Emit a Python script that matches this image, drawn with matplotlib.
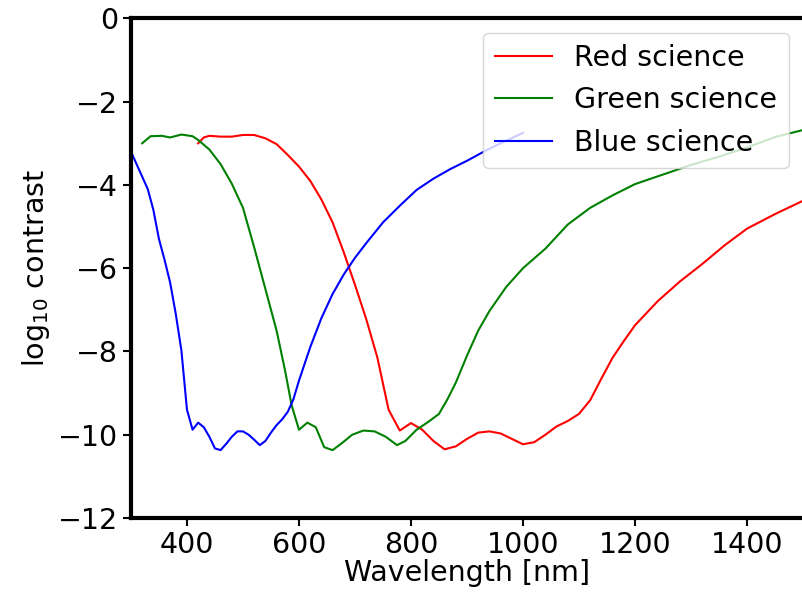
import matplotlib
matplotlib.use("Agg")
import matplotlib.pyplot as plt

# ── Data ───────────────────────────────────────────────────────────────────
red_wl = [420, 430, 440, 460, 480, 500, 520, 540, 560, 580, 600, 620, 640, 660,
          680, 700, 720, 740, 760, 780, 800, 820, 840, 860, 880, 900, 920, 940,
          960, 980, 1000, 1020, 1040, 1060, 1080, 1100, 1120, 1140, 1160, 1180,
          1200, 1240, 1280, 1320, 1360, 1400, 1450, 1500]
red_val = [-3.0, -2.86, -2.82, -2.84, -2.84, -2.8, -2.8, -2.88, -3.02, -3.28,
           -3.56, -3.9, -4.35, -4.9, -5.62, -6.4, -7.22, -8.15, -9.4, -9.9,
           -9.72, -9.88, -10.15, -10.35, -10.28, -10.1, -9.95, -9.92, -9.97,
           -10.1, -10.23, -10.18, -10.0, -9.8, -9.67, -9.5, -9.17, -8.65, -8.15,
           -7.75, -7.37, -6.8, -6.32, -5.9, -5.45, -5.05, -4.7, -4.38]

green_wl = [320, 335, 355, 370, 390, 410, 420, 440, 460, 480, 500, 520, 540, 560,
            575, 587, 600, 615, 630, 645, 660, 675, 695, 715, 735, 755, 775, 790,
            810, 830, 850, 865, 880, 900, 920, 940, 970, 1000, 1040, 1080, 1120,
            1160, 1200, 1250, 1300, 1350, 1400, 1450, 1500]
green_val = [-3.0, -2.83, -2.82, -2.86, -2.79, -2.83, -2.92, -3.15, -3.5, -3.97,
             -4.55, -5.5, -6.5, -7.5, -8.45, -9.3, -9.88, -9.71, -9.82, -10.3,
             -10.37, -10.22, -10.0, -9.9, -9.92, -10.05, -10.25, -10.15, -9.88,
             -9.7, -9.5, -9.15, -8.75, -8.1, -7.5, -7.03, -6.45, -6.0, -5.53,
             -4.95, -4.55, -4.25, -3.98, -3.75, -3.52, -3.32, -3.1, -2.85, -2.68]

blue_wl = [300, 310, 320, 330, 340, 350, 360, 370, 380, 390, 400, 410, 420, 430,
           440, 450, 460, 470, 480, 490, 500, 510, 520, 530, 540, 550, 560, 570,
           580, 590, 600, 620, 640, 660, 680, 700, 720, 750, 780, 810, 840, 870,
           900, 930, 960, 1000]
blue_val = [-3.2, -3.5, -3.8, -4.1, -4.6, -5.3, -5.8, -6.35, -7.1, -7.97, -9.4,
            -9.88, -9.71, -9.82, -10.05, -10.33, -10.37, -10.22, -10.05, -9.92,
            -9.92, -10.0, -10.12, -10.25, -10.15, -9.95, -9.77, -9.63, -9.45,
            -9.15, -8.7, -7.9, -7.2, -6.62, -6.15, -5.75, -5.4, -4.9, -4.5,
            -4.12, -3.85, -3.62, -3.42, -3.2, -3.0, -2.75]

labels = ["Red science", "Green science", "Blue science"]
colors = ["red", "green", "blue"]

# ── Plot ───────────────────────────────────────────────────────────────────
FS = 20.5
fig = plt.figure(figsize=(8.02, 5.94), dpi=100)
ax = fig.add_axes([0.1633, 0.128, 0.8380, 0.841])

series = [(red_wl, red_val), (green_wl, green_val), (blue_wl, blue_val)]
for (wl, val), lab, col in zip(series, labels, colors):
    ax.plot(wl, val, color=col, linewidth=1.5, label=lab)

ax.set_xlim(300, 1500)
ax.set_ylim(-12, 0)
ax.set_xticks([400, 600, 800, 1000, 1200, 1400])
ax.set_yticks([-12, -10, -8, -6, -4, -2, 0])
ax.tick_params(labelsize=FS, width=1.5, length=6)
for sp in ax.spines.values():
    sp.set_linewidth(3)

ax.set_xlabel("Wavelength [nm]", fontsize=FS, labelpad=0)
ax.set_ylabel(r"log$_{10}$ contrast", fontsize=FS)
ax.legend(loc="upper right", fontsize=FS)

fig.savefig("out.png", dpi=100)
